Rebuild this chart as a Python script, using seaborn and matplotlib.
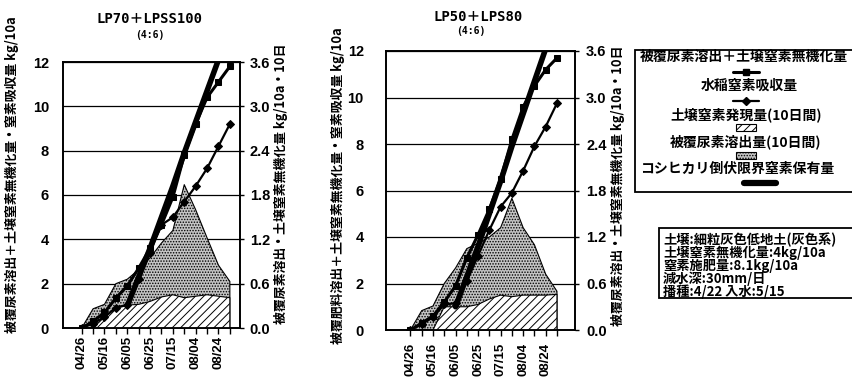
import numpy as np
import pandas as pd
import matplotlib
matplotlib.use('Agg')
import matplotlib.pyplot as plt
import seaborn as sns
from matplotlib.patches import Rectangle
from matplotlib.lines import Line2D
from matplotlib import font_manager as fm

# ---------------- data ----------------
dates = ['04/26', '05/06', '05/16', '05/26', '06/05', '06/15', '06/25',
         '07/05', '07/15', '07/25', '08/04', '08/14', '08/24', '09/03']

title_a = 'LP70＋LPSS100'
title_b = 'LP50＋LPS80'
ratio_text = '(4:6)'

# cumulative, left axis (kg/10a)
supply_a = [0, 0.3, 0.7, 1.35, 1.9, 2.7, 3.6, 4.65, 5.9, 7.8, 9.2, 10.4, 11.1, 11.8]
uptake_a = [0, 0.2, 0.5, 0.9, 1.05, 2.2, 3.4, 4.65, 5.0, 5.7, 6.4, 7.2, 8.2, 9.2]
supply_b = [0, 0.3, 0.6, 1.2, 1.9, 3.1, 4.1, 5.2, 6.5, 8.2, 9.6, 10.5, 11.2, 11.7]
uptake_b = [0, 0.25, 0.55, 1.1, 1.15, 2.1, 3.2, 4.3, 5.3, 5.9, 6.85, 7.9, 8.75, 9.75]
lodging = [np.nan, np.nan, np.nan, np.nan, 1.0, 2.3, 3.6, 5.0, 6.4, 7.9, 9.3, 10.7, 12.1, np.nan]

# per 10 days, right axis (kg/10a/10d)
soil_a = [0, 0, 0.15, 0.29, 0.31, 0.32, 0.36, 0.42, 0.45, 0.41, 0.43, 0.45, 0.43, 0.41]
coated_a = [0, 0.26, 0.17, 0.31, 0.35, 0.47, 0.59, 0.73, 0.87, 1.53, 1.17, 0.77, 0.42, 0.22]
soil_b = [0, 0, 0, 0.30, 0.30, 0.30, 0.33, 0.40, 0.45, 0.43, 0.45, 0.45, 0.45, 0.46]
coated_b = [0, 0.25, 0.31, 0.30, 0.50, 0.75, 0.79, 0.80, 0.87, 1.27, 0.87, 0.65, 0.27, 0.04]

left_ticks = [0, 2, 4, 6, 8, 10, 12]
right_ticks = [0.0, 0.6, 1.2, 1.8, 2.4, 3.0, 3.6]

ylab_a_left = '被覆尿素溶出＋土壌窒素無機化量・窒素吸収量 kg/10a'
ylab_b_left = '被覆肥料溶出＋土壌窒素無機化量・窒素吸収量 kg/10a'
ylab_right = '被覆尿素溶出・土壌窒素無機化量 kg/10a・10日'

legend_labels = ['被覆尿素溶出＋土壌窒素無機化量', '水稲窒素吸収量',
                 '土壌窒素発現量(10日間)', '被覆尿素溶出量(10日間)',
                 'コシヒカリ倒伏限界窒素保有量']
cond_lines = ['土壌:細粒灰色低地土(灰色系)', '土壌窒素無機化量:4kg/10a',
              '窒素施肥量:8.1kg/10a', '減水深:30mm/日', '播種:4/22 入水:5/15']

# ---------------- style ----------------
sns.set_theme(style='white')
names = {f.name for f in fm.fontManager.ttflist}
NUM = 'Liberation Sans Narrow' if 'Liberation Sans Narrow' in names else 'Liberation Sans'
CJK = 'Noto Sans CJK JP'
plt.rcParams['font.family'] = [NUM, CJK, 'DejaVu Sans']
plt.rcParams['font.weight'] = 'bold'
plt.rcParams['hatch.linewidth'] = 0.7
plt.rcParams['text.color'] = 'black'
plt.rcParams['xtick.color'] = 'black'
plt.rcParams['ytick.color'] = 'black'

W, H = 852, 377
fig = plt.figure(figsize=(W / 100, H / 100), dpi=100)
fig.patch.set_facecolor('white')


def rect(l, t, r, b):
    return [l / W, 1 - b / H, (r - l) / W, (b - t) / H]


x = np.arange(len(dates))
STIP = dict(facecolor='#c4c4c4', edgecolor='black', hatch='......', linewidth=0.8)
HATCH = dict(facecolor='white', edgecolor='black', hatch='////', linewidth=0.8)


def panel(box, xlim, supply, uptake, soil, coated, xpad, lpad, rpad):
    ax = fig.add_axes(rect(*box))
    tw = ax.twinx()
    ax.set_zorder(tw.get_zorder() + 1)
    ax.patch.set_visible(False)
    tw.patch.set_visible(True)
    tw.patch.set_facecolor('white')

    total = np.array(soil) + np.array(coated)
    tw.fill_between(x, 0, total, zorder=2, **STIP)
    tw.fill_between(x, 0, soil, zorder=3, **HATCH)

    df_l = pd.DataFrame({'d': x, 'v': lodging}).dropna()
    sns.lineplot(data=df_l, x='d', y='v', ax=ax, color='black', linewidth=4.0,
                 legend=False, errorbar=None)
    sns.lineplot(x=x, y=uptake, ax=ax, color='black', linewidth=1.6, marker='D',
                 markersize=4.5, markeredgecolor='black', legend=False, errorbar=None)
    sns.lineplot(x=x, y=supply, ax=ax, color='black', linewidth=2.2, marker='s',
                 markersize=5, markeredgecolor='black', legend=False, errorbar=None)

    ax.set_xlim(*xlim)
    ax.set_ylim(0, 12)
    tw.set_ylim(0, 3.6)
    ax.set_yticks(left_ticks)
    ax.set_yticklabels([str(v) for v in left_ticks])
    tw.set_yticks(right_ticks)
    tw.set_yticklabels([f'{v:.1f}' for v in right_ticks])
    ax.set_xticks(x)
    ax.set_xticklabels([d if i % 2 == 0 else '' for i, d in enumerate(dates)],
                       rotation=90, fontsize=9.5)
    ax.set_xlabel('')
    ax.set_ylabel('')
    tw.set_ylabel('')

    tw.grid(axis='y', color='black', linewidth=0.9)
    tw.grid(axis='x', visible=False)
    ax.grid(False)
    tw.set_axisbelow(True)

    ax.tick_params(axis='x', bottom=True, direction='out', length=4, width=1,
                   color='black', pad=xpad)
    ax.tick_params(axis='y', left=False, labelsize=10.5, pad=lpad)
    tw.tick_params(axis='y', right=True, direction='out', length=3, width=1,
                   color='black', labelsize=10.5, pad=rpad)
    for a in (ax, tw):
        for s in a.spines.values():
            s.set_visible(True)
            s.set_color('black')
            s.set_linewidth(1.2)
    return ax, tw


panel((63, 62, 240, 328), (-1.64, 13.89), supply_a, uptake_a, soil_a, coated_a,
      xpad=1.5, lpad=4, rpad=4)
panel((386, 51, 575, 330), (-2.17, 14.6), supply_b, uptake_b, soil_b, coated_b,
      xpad=5, lpad=10, rpad=5)

# titles
TFONT = ['DejaVu Sans Mono', CJK]
fig.text(149 / W, 1 - 19 / H, title_a, ha='center', va='center', fontsize=10,
         family=TFONT, weight='bold')
fig.text(150 / W, 1 - 35 / H, ratio_text, ha='center', va='center', fontsize=7,
         family=TFONT, weight='bold')
fig.text(478 / W, 1 - 17 / H, title_b, ha='center', va='center', fontsize=10,
         family=TFONT, weight='bold')
fig.text(471 / W, 1 - 31 / H, ratio_text, ha='center', va='center', fontsize=7,
         family=TFONT, weight='bold')

# axis labels
LFONT = [CJK, 'DejaVu Sans']
for (px, py, txt) in [(12, 175, ylab_a_left), (281, 184, ylab_right),
                      (338, 186, ylab_b_left), (618, 186, ylab_right)]:
    fig.text(px / W, 1 - py / H, txt, rotation=90, ha='center', va='center',
             fontsize=9.3, family=LFONT, weight='bold')

# ---------------- legend & condition box ----------------
ov = fig.add_axes([0, 0, 1, 1])
ov.set_xlim(0, W)
ov.set_ylim(H, 0)
ov.axis('off')
ov.patch.set_visible(False)

ov.add_patch(Rectangle((635, 50), 260, 142, facecolor='white', edgecolor='black',
                       linewidth=1.3))
cx = 746
fs = 10
ov.text(640, 57, legend_labels[0], ha='left', va='center', fontsize=fs,
        family=LFONT, weight='bold')
ov.add_line(Line2D([cx - 13, cx + 13], [72, 72], color='black', linewidth=2.2))
ov.plot([cx], [72], marker='s', markersize=5, color='black')
ov.text(cx + 3, 86, legend_labels[1], ha='center', va='center', fontsize=fs,
        family=LFONT, weight='bold')
ov.add_line(Line2D([cx - 13, cx + 13], [101, 101], color='black', linewidth=1.6))
ov.plot([cx], [101], marker='D', markersize=4.5, color='black')
ov.text(cx, 115, legend_labels[2], ha='center', va='center', fontsize=fs,
        family=LFONT, weight='bold')
ov.add_patch(Rectangle((cx - 10, 124), 20, 7, **HATCH))
ov.text(cx, 142, legend_labels[3], ha='center', va='center', fontsize=fs,
        family=LFONT, weight='bold')
ov.add_patch(Rectangle((cx - 10, 152), 20, 7, **STIP))
ov.text(640, 169, legend_labels[4], ha='left', va='center', fontsize=fs,
        family=LFONT, weight='bold')
ov.add_line(Line2D([744, 776], [183, 183], color='black', linewidth=4.5))

ov.add_patch(Rectangle((659, 228), 240, 70, facecolor='white', edgecolor='black',
                       linewidth=1.3))
ov.text(663, 233, '\n'.join(cond_lines), ha='left', va='top', fontsize=9.5,
        family=LFONT, weight='bold', linespacing=0.88)

fig.savefig('out.png', dpi=100, facecolor='white')
